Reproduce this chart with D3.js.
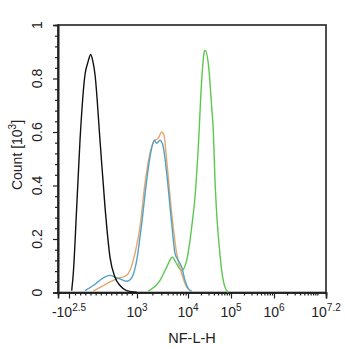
<!DOCTYPE html>
<html><head><meta charset="utf-8">
<script src="https://cdn.jsdelivr.net/npm/d3@7"></script>
<style>
html,body{margin:0;padding:0;background:#fff;}
svg{display:block;font-family:"Liberation Sans",Arial,sans-serif;}
</style></head>
<body><svg id="c" width="345" height="350"></svg>
<script>
// ---- data (fluorescence value, count in 10^3) ----
const blackX = [-264,-233,-167,-103,-6,52,104,148,187,284,381,477,574,671,800,994];
const blackY = [0.007,0.071,0.319,0.569,0.815,0.862,0.89,0.862,0.815,0.569,0.319,0.132,0.057,0.026,0.007,0.001];

const blueX = [-6,154,348,477,574,704,800,897,994,1236,1549,1799,2184,2432,2824,3280,3821,4786,5559,6454,7521,8730,10160,12190];
const blueY = [0.007,0.026,0.055,0.064,0.057,0.048,0.042,0.055,0.12,0.257,0.419,0.507,0.569,0.558,0.569,0.544,0.446,0.258,0.146,0.12,0.095,0.045,0.015,0.004];

const orangeX = [154,348,541,671,768,864,961,1145,1435,1799,2254,2618,3051,3383,3821,4786,5998,7521,9420,12190];
const orangeY = [0.005,0.026,0.045,0.055,0.06,0.082,0.146,0.245,0.408,0.521,0.569,0.577,0.60,0.588,0.494,0.296,0.146,0.071,0.02,0.004];

const greenX = [1666,2824,3821,4922,5998,7521,9420,11130,12190,14550,17360,20830,23550,24850,29650,35560,38730,42460,46450,53430,60720,72450,86440];
const greenY = [0.005,0.045,0.095,0.132,0.107,0.082,0.12,0.195,0.245,0.357,0.544,0.794,0.895,0.906,0.857,0.694,0.607,0.419,0.296,0.17,0.082,0.02,0.0];

const seriesColors = ["#111111","#4fa3c6","#e8a56e","#5cc84f"];

const xMajorTicks = [-316.2, 1e3, 1e4, 1e5, 1e6, Math.pow(10,7.2)];
const xMajorBase = ["-10","10","10","10","10","10"];
const xMajorExp = ["2.5","3","4","5","6","7.2"];

const yMajorTicks = [0,0.2,0.4,0.6,0.8,1];
const yMajorLabels = ["0","0.2","0.4","0.6","0.8","1"];

const xTitle = "NF-L-H";
const yTitle = "Count [10";
const yTitleExp = "3";
const yTitleEnd = "]";

// ---- scales ----
const g = v => v < 1000 ? 3*v/1000 : Math.log10(v);
const xs = d3.scaleLinear().domain([-1.587, 3, 4, 5, 6, 7.2]).range([58, 137, 188, 231, 274, 326]);
const X = v => xs(g(v));
const ys = d3.scaleLinear().domain([0,1]).range([292.5, 25]);

const svg = d3.select("#c");

// minor ticks
const xMinor = [];
for (let v=-200; v<=900; v+=100) xMinor.push(v);
for (let e=3; e<=6; e++) for (let m=2; m<=10; m++) { const v=m*Math.pow(10,e); if (g(v) < 7.2 && !(m===10 && e<6)) xMinor.push(v); }
const yMinor = d3.range(0, 1.0001, 0.04).filter(v => Math.abs(v*5 - Math.round(v*5)) > 1e-6);

// frame
svg.append("rect").attr("x",58).attr("y",25).attr("width",326-58).attr("height",292.5-25)
  .attr("fill","none").attr("stroke","#222").attr("stroke-width",1.6);

// x axis
const xAxisMajor = d3.axisBottom(xs).tickValues(xMajorTicks.map(g)).tickSize(6).tickFormat("");
const xAxisMinor = d3.axisBottom(xs).tickValues(xMinor.map(g)).tickSize(3).tickFormat("");
[xAxisMinor, xAxisMajor].forEach(ax => {
  const gg = svg.append("g").attr("transform","translate(0,292.5)").call(ax);
  gg.select(".domain").attr("stroke","#222").attr("stroke-width",1.6);
  gg.selectAll(".tick line").attr("stroke","#222").attr("stroke-width",1.2);
});

// y axis
const yAxisMajor = d3.axisLeft(ys).tickValues(yMajorTicks).tickSize(5).tickFormat("");
const yAxisMinor = d3.axisLeft(ys).tickValues(yMinor).tickSize(3).tickFormat("");
[yAxisMinor, yAxisMajor].forEach(ax => {
  const gg = svg.append("g").attr("transform","translate(58,0)").call(ax);
  gg.select(".domain").attr("stroke","#222").attr("stroke-width",1.6);
  gg.selectAll(".tick line").attr("stroke","#222").attr("stroke-width",1.2);
});

// x tick labels
xMajorTicks.forEach((v,i) => {
  const t = svg.append("text").attr("x", X(v)).attr("y", 317).attr("text-anchor","middle")
    .attr("font-size",14).attr("fill","#222");
  t.append("tspan").text(xMajorBase[i]);
  t.append("tspan").attr("font-size",10).attr("dy",-6).text(xMajorExp[i]);
});

// y tick labels
yMajorTicks.forEach((v,i) => {
  svg.append("text").attr("transform",`translate(42,${ys(v)}) rotate(-90)`)
    .attr("text-anchor","middle").attr("font-size",14).attr("fill","#222").text(yMajorLabels[i]);
});

// titles
svg.append("text").attr("x",192).attr("y",343).attr("text-anchor","middle")
  .attr("font-size",14.5).attr("fill","#222").text(xTitle);
const yt = svg.append("text").attr("transform","translate(22,155) rotate(-90)")
  .attr("text-anchor","middle").attr("font-size",14).attr("fill","#222");
yt.append("tspan").text(yTitle);
yt.append("tspan").attr("font-size",10).attr("dy",-6).text(yTitleExp);
yt.append("tspan").attr("dy",6).text(yTitleEnd);

// curves
const line = d3.line().x(d => X(d[0])).y(d => ys(d[1])).curve(d3.curveMonotoneX);
const series = [[blackX,blackY],[blueX,blueY],[orangeX,orangeY],[greenX,greenY]];
const order = [3,2,1,0];
order.forEach(i => {
  const [xa, ya] = series[i];
  svg.append("path").datum(xa.map((x,j)=>[x,ya[j]])).attr("d",line)
    .attr("fill","none").attr("stroke",seriesColors[i]).attr("stroke-width",1.4);
});
</script></body></html>
